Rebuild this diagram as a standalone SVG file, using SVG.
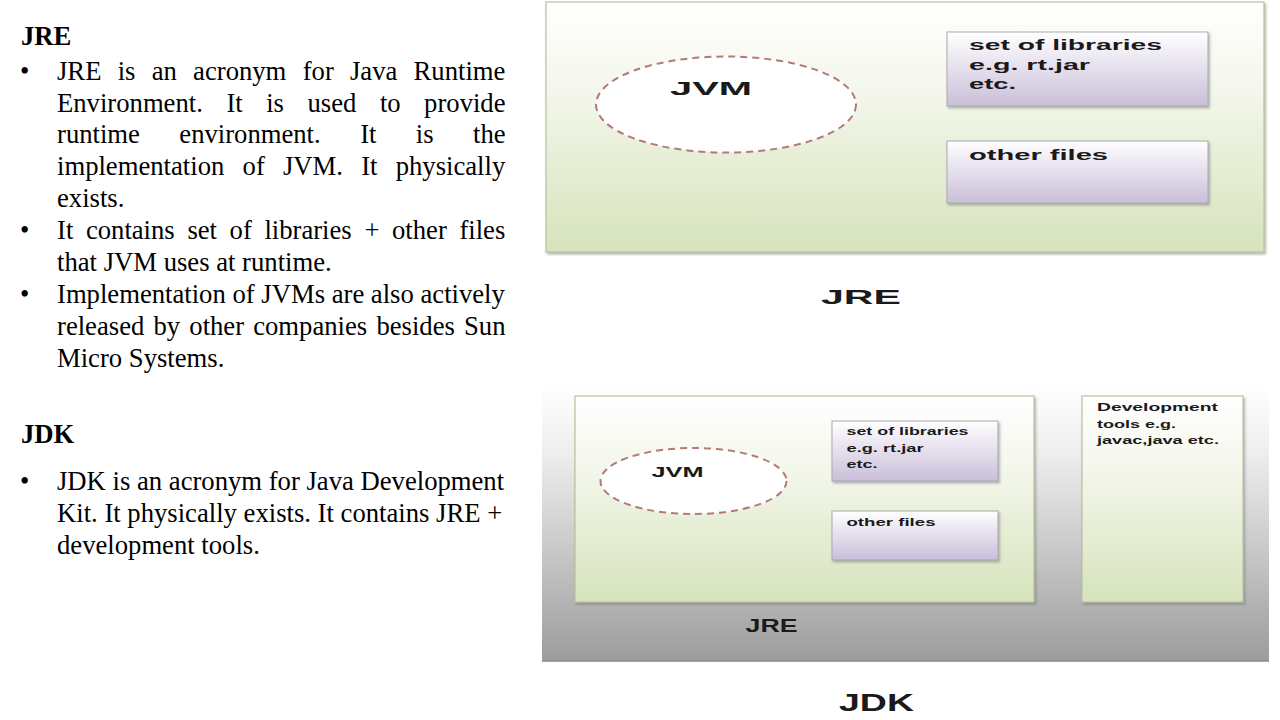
<svg xmlns="http://www.w3.org/2000/svg" width="1280" height="720" viewBox="0 0 1280 720">
<defs>
<linearGradient id="gGreen" x1="0" y1="0" x2="0" y2="1">
<stop offset="0" stop-color="#ffffff"/>
<stop offset="0.35" stop-color="#f4f7ec"/>
<stop offset="1" stop-color="#d6e3bb"/>
</linearGradient>
<linearGradient id="gLav" x1="0" y1="0" x2="0" y2="1">
<stop offset="0" stop-color="#ffffff"/>
<stop offset="0.35" stop-color="#ece8f2"/>
<stop offset="1" stop-color="#c9bfd9"/>
</linearGradient>
<linearGradient id="gGray" x1="0" y1="0" x2="0" y2="1">
<stop offset="0" stop-color="#ffffff"/>
<stop offset="0.25" stop-color="#ededed"/>
<stop offset="0.6" stop-color="#c8c8c8"/>
<stop offset="1" stop-color="#9c9c9c"/>
</linearGradient>
<filter id="sh" x="-5%" y="-5%" width="110%" height="115%">
<feDropShadow dx="1.5" dy="2" stdDeviation="1.2" flood-color="#666" flood-opacity="0.45"/>
</filter>
</defs>
<style>
.serif{font-family:"Liberation Serif","Times New Roman",serif;font-size:26.67px;fill:#000}
.bold{font-weight:bold}
.lbl{font-family:"Liberation Sans",Arial,sans-serif;font-weight:bold;fill:#1a1a1a}
.green{fill:url(#gGreen);stroke:#b8c2a0;stroke-width:1.2}
.lav{fill:url(#gLav);stroke:#a9a9b0;stroke-width:1}
.jvm{fill:#ffffff;stroke:#b27a77;stroke-width:2;stroke-dasharray:7 5}
</style>
<rect width="1280" height="720" fill="#ffffff"/>

<g id="left-text">
<text class="serif bold" x="21" y="45">JRE</text>
<text class="serif" x="20" y="80">•</text>
<text class="serif" y="80"><tspan x="57">JRE</tspan><tspan x="117.7">is</tspan><tspan x="151.7">an</tspan><tspan x="193.1">acronym</tspan><tspan x="302.7">for</tspan><tspan x="350">Java</tspan><tspan x="413.6">Runtime</tspan></text>
<text class="serif" y="111.5"><tspan x="57">Environment.</tspan><tspan x="226.4">It</tspan><tspan x="266.2">is</tspan><tspan x="307.5">used</tspan><tspan x="379.9">to</tspan><tspan x="424.1">provide</tspan></text>
<text class="serif" y="143.3"><tspan x="57">runtime</tspan><tspan x="179.3">environment.</tspan><tspan x="360.2">It</tspan><tspan x="415.8">is</tspan><tspan x="473">the</tspan></text>
<text class="serif" y="175.2"><tspan x="57">implementation</tspan><tspan x="242.6">of</tspan><tspan x="283">JVM.</tspan><tspan x="361.2">It</tspan><tspan x="395.7">physically</tspan></text>
<text class="serif" x="57" y="207">exists.</text>
<text class="serif" x="20" y="239">•</text>
<text class="serif" y="239"><tspan x="57">It</tspan><tspan x="85.9">contains</tspan><tspan x="187.4">set</tspan><tspan x="229.6">of</tspan><tspan x="264.4">libraries</tspan><tspan x="364.4">+</tspan><tspan x="392">other</tspan><tspan x="459.4">files</tspan></text>
<text class="serif" x="57" y="270.8">that JVM uses at runtime.</text>
<text class="serif" x="20" y="302.7">•</text>
<text class="serif" x="57" y="302.7">Implementation of JVMs are also actively</text>
<text class="serif" y="334.6"><tspan x="57">released</tspan><tspan x="153.5">by</tspan><tspan x="189.3">other</tspan><tspan x="253.2">companies</tspan><tspan x="376.4">besides</tspan><tspan x="464">Sun</tspan></text>
<text class="serif" x="57" y="366.5">Micro Systems.</text>
<text class="serif bold" x="21" y="443">JDK</text>
<text class="serif" x="20" y="490">•</text>
<text class="serif" x="57" y="490">JDK is an acronym for Java Development</text>
<text class="serif" x="57" y="522">Kit. It physically exists. It contains JRE +</text>
<text class="serif" x="57" y="554">development tools.</text>
</g>

<g id="jre-diagram">
<rect class="green" x="546" y="2" width="718" height="250" filter="url(#sh)"/>
<g id="jre-jvm">
<ellipse class="jvm" cx="726" cy="104.5" rx="130" ry="48"/>
<text class="lbl" x="670" y="94.5" font-size="19" textLength="82" lengthAdjust="spacingAndGlyphs">JVM</text>
</g>
<g id="jre-libs">
<rect class="lav" x="947" y="32" width="261" height="74" filter="url(#sh)"/>
<text class="lbl" x="969" y="49.5" font-size="14" textLength="193" lengthAdjust="spacingAndGlyphs">set of libraries</text>
<text class="lbl" x="969" y="69.5" font-size="14" textLength="121" lengthAdjust="spacingAndGlyphs">e.g. rt.jar</text>
<text class="lbl" x="969" y="89" font-size="14" textLength="47" lengthAdjust="spacingAndGlyphs">etc.</text>
</g>
<g id="jre-other">
<rect class="lav" x="947" y="141" width="261" height="62" filter="url(#sh)"/>
<text class="lbl" x="969" y="160" font-size="14" textLength="139" lengthAdjust="spacingAndGlyphs">other files</text>
</g>
<text class="lbl" x="821" y="303.5" font-size="21" textLength="80" lengthAdjust="spacingAndGlyphs">JRE</text>
</g>

<g id="jdk-diagram">
<rect x="542" y="386" width="727" height="275" fill="url(#gGray)"/>
<line x1="542" y1="661" x2="1269" y2="661" stroke="#8a8a8a" stroke-width="1.5"/>
<g id="jdk-jre">
<rect class="green" x="575" y="396" width="459" height="206" filter="url(#sh)"/>
<g id="jdk-jvm">
<ellipse class="jvm" cx="693.5" cy="481" rx="93" ry="33" stroke-width="1.6" stroke-dasharray="6 4"/>
<text class="lbl" x="651.5" y="477.2" font-size="14" textLength="52" lengthAdjust="spacingAndGlyphs">JVM</text>
</g>
<g id="jdk-libs">
<rect class="lav" x="832" y="421" width="166" height="60" filter="url(#sh)"/>
<text class="lbl" x="846.5" y="435.3" font-size="11" textLength="122" lengthAdjust="spacingAndGlyphs">set of libraries</text>
<text class="lbl" x="846.5" y="452" font-size="11" textLength="77" lengthAdjust="spacingAndGlyphs">e.g. rt.jar</text>
<text class="lbl" x="846.5" y="467.7" font-size="11" textLength="31" lengthAdjust="spacingAndGlyphs">etc.</text>
</g>
<g id="jdk-other">
<rect class="lav" x="832" y="511" width="166" height="49" filter="url(#sh)"/>
<text class="lbl" x="846.5" y="525.9" font-size="11" textLength="89" lengthAdjust="spacingAndGlyphs">other files</text>
</g>
<text class="lbl" x="745.6" y="632" font-size="18" textLength="52" lengthAdjust="spacingAndGlyphs">JRE</text>
</g>
<g id="jdk-devtools">
<rect class="green" x="1082" y="396" width="161" height="206" filter="url(#sh)"/>
<text class="lbl" x="1097" y="410.8" font-size="11" textLength="121" lengthAdjust="spacingAndGlyphs">Development</text>
<text class="lbl" x="1097" y="427.5" font-size="11" textLength="79" lengthAdjust="spacingAndGlyphs">tools e.g.</text>
<text class="lbl" x="1097" y="443.6" font-size="11" textLength="122" lengthAdjust="spacingAndGlyphs">javac,java etc.</text>
</g>
<text class="lbl" x="839" y="711" font-size="23" textLength="75" lengthAdjust="spacingAndGlyphs">JDK</text>
</g>
</svg>
